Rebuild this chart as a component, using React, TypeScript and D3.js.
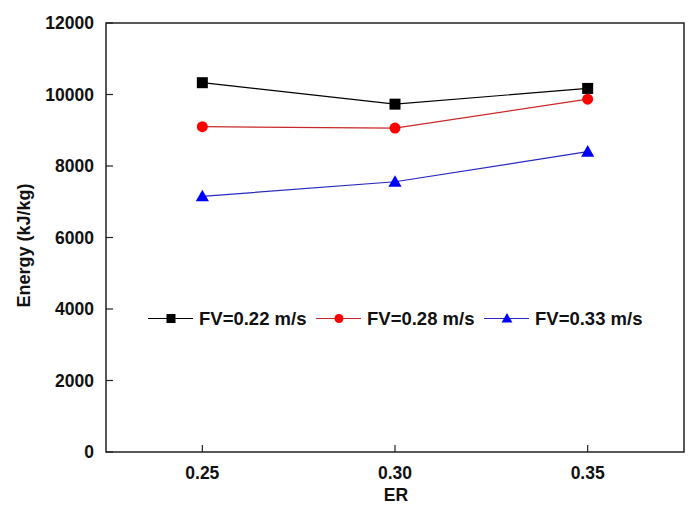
import React from "react";
import * as d3 from "d3";

const erValues = [0.25, 0.3, 0.35];
const fv022 = [10330, 9730, 10170];
const fv028 = [9100, 9060, 9870];
const fv033 = [7150, 7560, 8400];
const seriesNames = ["FV=0.22 m/s", "FV=0.28 m/s", "FV=0.33 m/s"];
const yTicks = [0, 2000, 4000, 6000, 8000, 10000, 12000];
const xTicks = [0.25, 0.3, 0.35];

const W = 689, H = 505;
const M = { left: 106, right: 5, top: 23, bottom: 53 };

export default function App() {
  const x = d3.scaleLinear().domain([0.225, 0.375]).range([M.left, W - M.right]);
  const y = d3.scaleLinear().domain([0, 12000]).range([H - M.bottom, M.top]);
  const series = [
    { name: seriesNames[0], vals: fv022, line: "#000000", fill: "#000000", shape: "square" },
    { name: seriesNames[1], vals: fv028, line: "#c82828", fill: "#ff0000", shape: "circle" },
    { name: seriesNames[2], vals: fv033, line: "#2828c0", fill: "#0000ff", shape: "triangle" },
  ];
  const lineGen = d3.line<[number, number]>().x(d => x(d[0])).y(d => y(d[1]));
  const marker = (shape: string, cx: number, cy: number, fill: string, s: number) => {
    if (shape === "square") return <rect x={cx - s / 2} y={cy - s / 2} width={s} height={s} fill={fill} />;
    if (shape === "circle") return <circle cx={cx} cy={cy} r={s / 2} fill={fill} />;
    const h = s * 1.0;
    return <path d={`M${cx},${cy - h * 0.6} L${cx + s * 0.6},${cy + h * 0.45} L${cx - s * 0.6},${cy + h * 0.45} Z`} fill={fill} />;
  };
  const font = "'Liberation Sans', Arial, sans-serif";
  const legendX = [148, 316, 484];
  const legendY = 318.5;
  return (
    <svg width={W} height={H} style={{ position: "absolute", left: 0, top: 0 }} fontFamily={font}>
      <rect x={0} y={0} width={W} height={H} fill="#fff" />
      <rect x={M.left} y={M.top} width={W - M.right - M.left} height={H - M.bottom - M.top} fill="none" stroke="#222" strokeWidth={1.5} />
      {yTicks.map(t => (
        <g key={t}>
          <line x1={M.left} x2={M.left + 7} y1={y(t)} y2={y(t)} stroke="#222" strokeWidth={1.2} />
          <text x={M.left - 12} y={y(t)} dy="0.36em" textAnchor="end" fontSize={17.5} fontWeight="bold" fill="#111">{t}</text>
        </g>
      ))}
      {xTicks.map(t => (
        <g key={t}>
          <line x1={x(t)} x2={x(t)} y1={y(0)} y2={y(0) - 7} stroke="#222" strokeWidth={1.2} />
          <text x={x(t)} y={479} textAnchor="middle" fontSize={17.5} fontWeight="bold" fill="#111">{t.toFixed(2)}</text>
        </g>
      ))}
      <text x={396} y={501} textAnchor="middle" fontSize={17.5} fontWeight="bold" fill="#111">ER</text>
      <text transform={`translate(30,${245.5}) rotate(-90)`} textAnchor="middle" fontSize={18} fontWeight="bold" fill="#111">Energy (kJ/kg)</text>
      {series.map(s => {
        const pts = erValues.map((e, i) => [e, s.vals[i]] as [number, number]);
        return (
          <g key={s.name}>
            <path d={lineGen(pts) || ""} fill="none" stroke={s.line} strokeWidth={1.2} />
            {pts.map((p, i) => <g key={i}>{marker(s.shape, x(p[0]), y(p[1]), s.fill, 11)}</g>)}
          </g>
        );
      })}
      {series.map((s, i) => (
        <g key={"lg" + i}>
          <line x1={legendX[i]} x2={legendX[i] + 45} y1={legendY} y2={legendY} stroke={s.line} strokeWidth={1.2} />
          {marker(s.shape, legendX[i] + 23, legendY, s.fill, 9)}
          <text x={legendX[i] + 51} y={legendY} dy="0.36em" fontSize={18.5} fontWeight="bold" fill="#111">{s.name}</text>
        </g>
      ))}
    </svg>
  );
}
